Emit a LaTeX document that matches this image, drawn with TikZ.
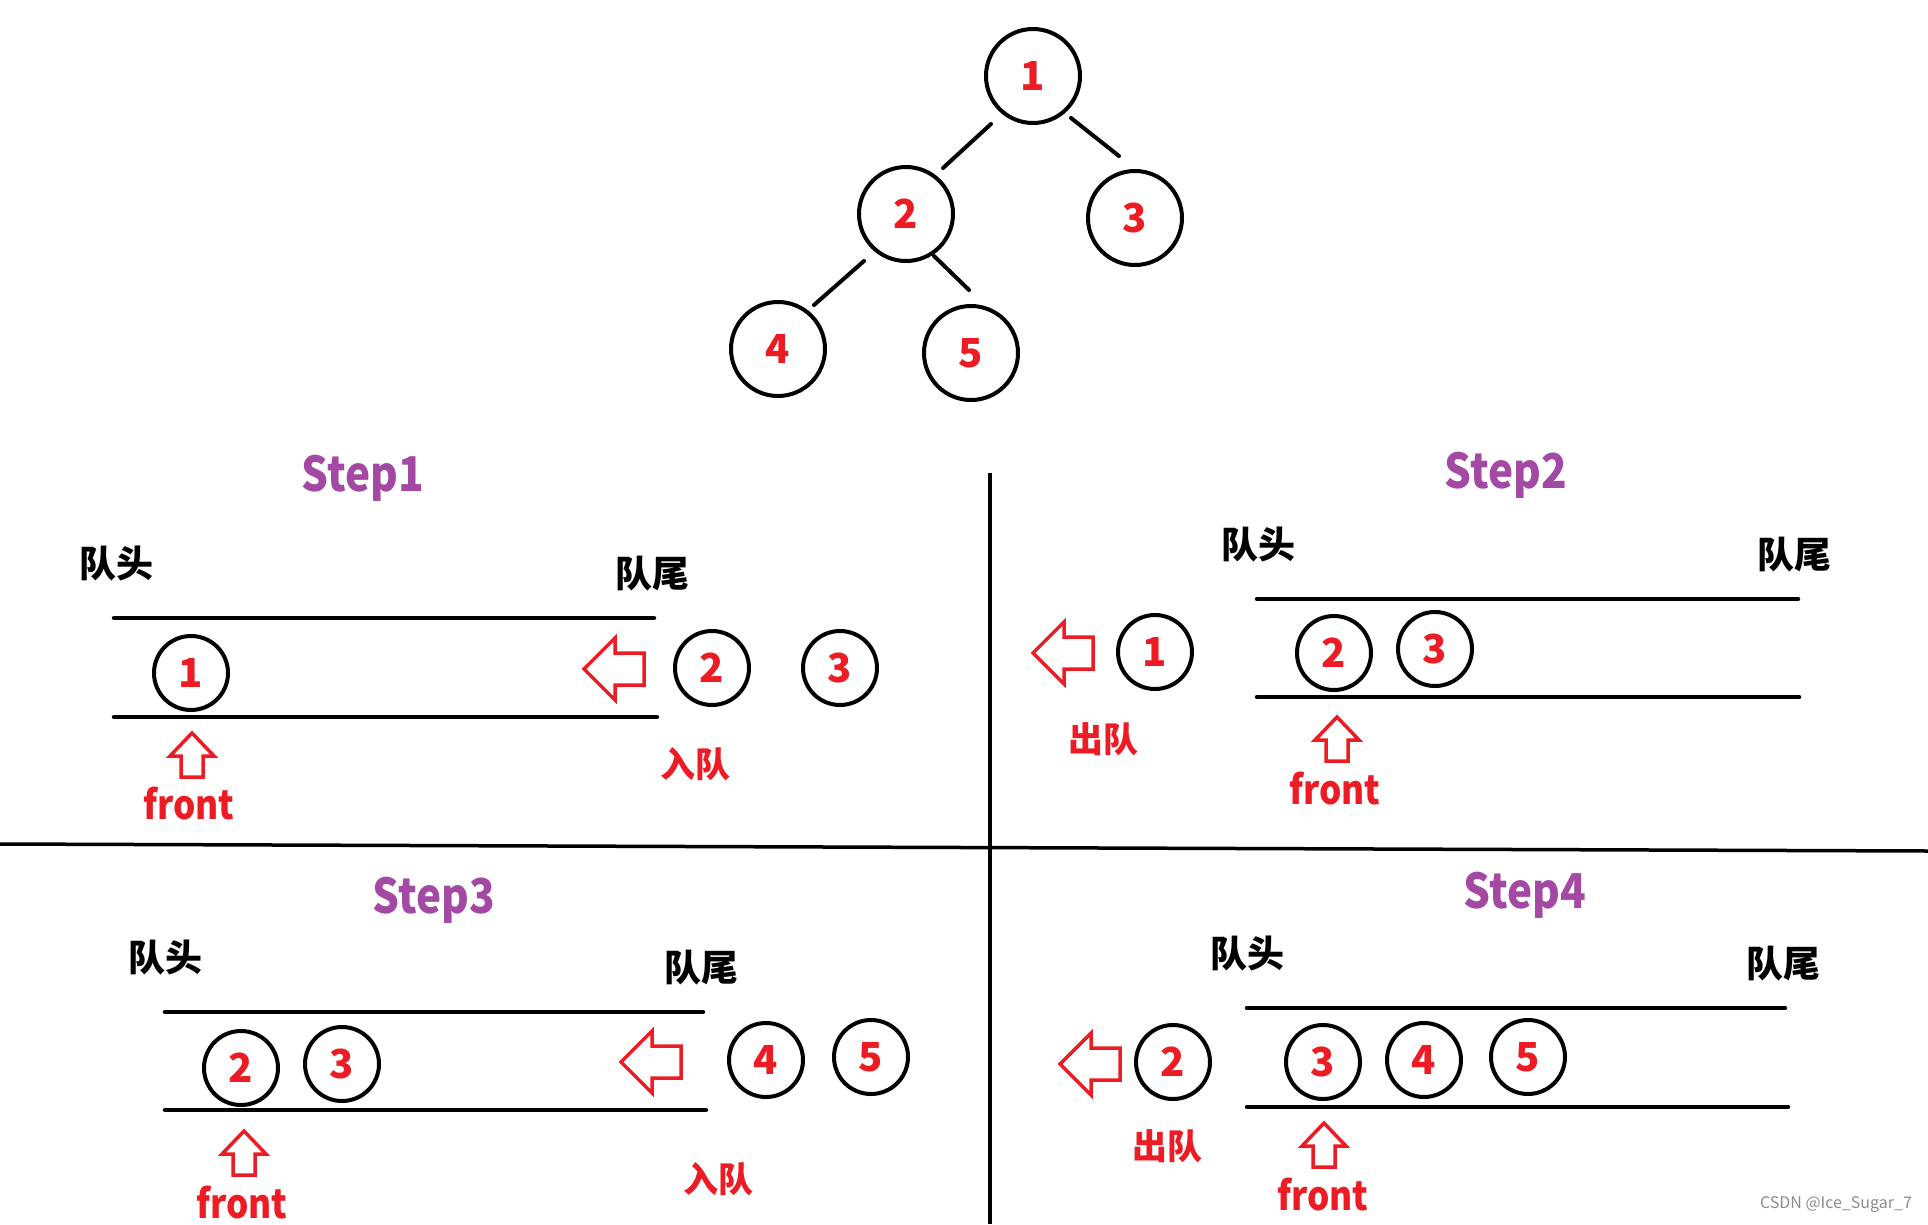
\documentclass[tikz,border=0pt]{standalone}
\usepackage{fontspec}
\setmainfont{Noto Sans CJK SC}
\newfontfamily\narrowfont{Noto Sans CJK SC}[FakeStretch=0.88]
\usetikzlibrary{calc}
\definecolor{pred}{HTML}{ED1C24}
\definecolor{ppurple}{HTML}{A349A4}
\newcommand{\qleftarr}[2]{\draw[hollowarrow] (#1,#2) -- ++(31,-31) -- ++(0,15) -- ++(29,0) -- ++(0,32) -- ++(-29,0) -- ++(0,15) -- cycle;}
\newcommand{\qupperarr}[2]{\draw[hollowarrow] (#1,#2) -- ++(22,23) -- ++(-11,0) -- ++(0,21) -- ++(-22,0) -- ++(0,-21) -- ++(-11,0) -- cycle;}
\begin{document}
\begin{tikzpicture}[x=1pt,y=-1pt,
  treenode/.style={circle,draw=black,line width=4pt,minimum size=94pt,inner sep=0pt,text=pred,font=\fontsize{40}{40}\selectfont\bfseries},
  qnode/.style={circle,draw=black,line width=4pt,minimum size=74pt,inner sep=0pt,text=pred,font=\fontsize{40}{40}\selectfont\bfseries},
  edge/.style={line width=4pt,line cap=round},
  qline/.style={line width=4.5pt,line cap=round},
  divider/.style={line width=3.5pt},
  hollowarrow/.style={draw=pred,line width=3.5pt,line join=miter},
  steptitle/.style={text=ppurple,font=\narrowfont\fontsize{48}{48}\selectfont\bfseries},
  endlabel/.style={text=black,font=\fontsize{37}{37}\selectfont\bfseries},
  actlabel/.style={text=pred,font=\fontsize{35}{35}\selectfont\bfseries},
  frontlabel/.style={text=pred,font=\narrowfont\fontsize{40}{40}\selectfont\bfseries},
]
\useasboundingbox (0,0) rectangle (1928,1224);
\fill[white] (0,0) rectangle (1928,1224);

% ---------- tree ----------
\node[treenode] (t1) at (1033,76) {1};
\node[treenode] (t2) at (906,214) {2};
\node[treenode] (t3) at (1135,218) {3};
\node[treenode] (t4) at (778,349) {4};
\node[treenode] (t5) at (971,353) {5};
\draw[edge] ($(t1.center)+(-42,48)$) -- ($(t2.center)+(37,-46)$);
\draw[edge] ($(t1.center)+(38,42)$) -- ($(t3.center)+(-16,-62)$);
\draw[edge] ($(t2.center)+(-42,47)$) -- ($(t4.center)+(36,-44)$);
\draw[edge] ($(t2.center)+(28,42)$) -- ($(t5.center)+(-2,-63)$);

% ---------- dividers ----------
\coordinate (hl) at (0,844);
\coordinate (hr) at (1928,851);
\coordinate (vt) at (990,473);
\coordinate (vb) at (990,1224);
\draw[divider] (hl) -- (hr);
\draw[divider] (vt) -- (vb);

% ---------- Step1 ----------
\node[steptitle] (s1) at (363,478) {Step1};
\node[endlabel] (s1head) at (116,564) {队头};
\node[endlabel] (s1tail) at (652,574) {队尾};
\draw[qline] (114,618) -- (654,618);
\draw[qline] (114,717) -- (657,717);
\node[qnode] (s1a) at (191,673) {1};
\node[qnode] (s1b) at (712,668) {2};
\node[qnode] (s1c) at (840,668) {3};
\qleftarr{584}{669}
\qupperarr{192}{733}
\node[frontlabel] (s1front) at (189,804) {front};
\node[actlabel] (s1act) at (695,764) {入队};

% ---------- Step2 ----------
\node[steptitle] (s2) at (1506,475) {Step2};
\node[endlabel] (s2head) at (1258,545) {队头};
\node[endlabel] (s2tail) at (1794,555) {队尾};
\draw[qline] (1257,599) -- (1798,599);
\draw[qline] (1257,697) -- (1799,697);
\node[qnode] (s2a) at (1155,652) {1};
\node[qnode] (s2b) at (1334,653) {2};
\node[qnode] (s2c) at (1435,649) {3};
\qleftarr{1033}{653}
\qupperarr{1337}{717}
\node[frontlabel] (s2front) at (1335,789) {front};
\node[actlabel] (s2act) at (1103,739) {出队};

% ---------- Step3 ----------
\node[steptitle] (s3) at (434,900) {Step3};
\node[endlabel] (s3head) at (165,958) {队头};
\node[endlabel] (s3tail) at (701,968) {队尾};
\draw[qline] (165,1012) -- (703,1012);
\draw[qline] (165,1110) -- (706,1110);
\node[qnode] (s3a) at (241,1068) {2};
\node[qnode] (s3b) at (342,1064) {3};
\node[qnode] (s3c) at (766,1060) {4};
\node[qnode] (s3d) at (871,1057) {5};
\qleftarr{621}{1062}
\qupperarr{244}{1131}
\node[frontlabel] (s3front) at (242,1203) {front};
\node[actlabel] (s3act) at (718,1179) {入队};

% ---------- Step4 ----------
\node[steptitle] (s4) at (1525,895) {Step4};
\node[endlabel] (s4head) at (1247,954) {队头};
\node[endlabel] (s4tail) at (1783,964) {队尾};
\draw[qline] (1247,1008) -- (1785,1008);
\draw[qline] (1247,1107) -- (1788,1107);
\node[qnode] (s4a) at (1173,1062) {2};
\node[qnode] (s4b) at (1323,1062) {3};
\node[qnode] (s4c) at (1424,1060) {4};
\node[qnode] (s4d) at (1528,1057) {5};
\qleftarr{1060}{1064}
\qupperarr{1324}{1123}
\node[frontlabel] (s4front) at (1323,1195) {front};
\node[actlabel] (s4act) at (1167,1146) {出队};

% ---------- watermark ----------
\node[text=black!45,font=\fontsize{16}{16}\selectfont] (wm) at (1836,1205) {CSDN @Ice\_Sugar\_7};
\end{tikzpicture}
\end{document}
